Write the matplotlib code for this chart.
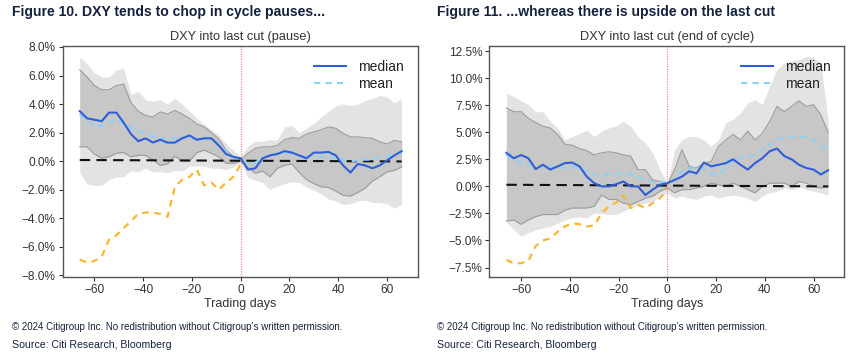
import numpy as np
import matplotlib
matplotlib.use("Agg")
import matplotlib.pyplot as plt
from matplotlib.ticker import PercentFormatter

# ---------- data (% change in DXY) ----------
days = np.arange(-66, 67, 3)           # trading days around the last cut
days_pre = np.arange(-66, 1, 3)        # 2024 path only runs up to day 0
zero_days = [-66, 66]

# Figure 10: pause
pause_outer_hi = [7.3, 6.8, 6.2, 5.9, 5.9, 6.4, 6.5, 4.7, 4.9, 4.3, 4.2, 4.3, 4.0, 4.4, 4.0,
                  3.5, 3.0, 2.6, 2.2, 1.8, 1.25, 0.75, 0.3, 1.05, 1.4, 1.4, 1.5, 1.5, 2.4, 2.5,
                  2.0, 2.3, 2.65, 3.1, 3.5, 3.85, 4.0, 3.9, 4.0, 4.25, 4.4, 4.6, 4.5, 4.1, 4.4]
pause_inner_hi = [6.4, 5.9, 5.3, 5.0, 5.0, 5.3, 5.4, 4.1, 3.5, 3.2, 3.1, 3.45, 3.3, 3.55, 3.3,
                  3.0, 2.6, 2.4, 2.0, 1.55, 0.8, 0.3, 0.1, 0.55, 0.9, 1.0, 1.0, 1.1, 1.5, 1.65,
                  1.6, 1.9, 2.05, 2.2, 2.4, 2.3, 1.95, 1.7, 1.7, 1.65, 1.6, 1.35, 1.2, 1.45, 1.35]
pause_inner_lo = [1.0, 1.0, 0.5, 0.2, 0.3, 0.55, 0.6, 0.3, 0.4, 0.4, 0.1, -0.3, -0.2, 0.35, 0.0,
                  0.0, 0.6, 0.77, 0.55, 0.3, -0.15, -0.15, 0.0, -0.45, -0.85, -0.7, -1.1, -0.5,
                  -0.3, -0.2, -0.8, -1.3, -1.57, -1.8, -1.85, -2.1, -2.4, -2.45, -2.2, -1.9, -1.4,
                  -1.1, -0.75, -0.65, -0.4]
pause_outer_lo = [-0.8, -1.6, -1.7, -1.7, -1.3, -1.1, -1.1, -0.65, -0.75, -0.5, -0.75, -0.75,
                  -0.8, -0.65, -0.7, -0.35, -0.35, -0.35, -0.5, -0.5, -0.6, -0.4, -0.1, -1.15,
                  -1.35, -1.5, -2.0, -1.75, -1.57, -1.45, -1.5, -1.8, -2.03, -2.3, -2.65, -2.8,
                  -3.05, -2.97, -2.8, -2.75, -2.9, -2.9, -3.0, -3.3, -3.0]
pause_median = [3.5, 3.0, 2.9, 2.8, 3.4, 3.4, 2.7, 1.9, 1.4, 1.6, 1.3, 1.5, 1.3, 1.3, 1.6,
                1.8, 1.5, 1.6, 1.6, 1.1, 0.5, 0.3, 0.2, -0.6, -0.5, 0.2, 0.4, 0.5, 0.7, 0.6,
                0.4, 0.2, 0.6, 0.6, 0.65, 0.4, -0.3, -0.8, -0.2, -0.3, -0.5, -0.3, 0.05, 0.4, 0.7]
pause_mean = [3.3, 2.8, 2.4, 2.5, 2.7, 3.0, 2.5, 2.3, 2.1, 2.0, 1.7, 1.6, 1.7, 1.6, 1.7,
              1.6, 1.5, 1.6, 1.6, 1.2, 0.7, 0.3, 0.1, -0.3, -0.1, 0.2, 0.4, 0.5, 0.6, 0.5,
              0.4, 0.3, 0.4, 0.3, 0.3, 0.2, 0.1, 0.0, 0.05, 0.1, 0.1, 0.3, 0.35, 0.4, 0.6]
pause_2024 = [-6.9, -7.1, -7.0, -6.7, -5.5, -5.2, -4.7, -4.2, -3.7, -3.6, -3.6, -3.7, -3.9,
              -1.8, -1.3, -1.1, -0.6, -1.7, -1.5, -2.0, -1.5, -1.1, -0.2]
pause_zero = [0.08, -0.02]

# Figure 11: end of cycle
end_outer_hi = [8.6, 8.3, 7.9, 7.55, 6.9, 6.9, 6.0, 5.4, 4.3, 4.6, 4.9, 5.2, 4.6, 5.1, 5.4,
                5.6, 6.0, 5.55, 4.6, 4.0, 3.1, 1.55, 0.3, 3.4, 4.3, 4.6, 4.6, 4.3, 3.7, 4.3,
                5.9, 6.2, 6.8, 7.7, 8.0, 7.55, 9.3, 10.8, 11.4, 11.6, 11.7, 12.0, 11.9, 11.4, 6.0]
end_inner_hi = [7.25, 6.9, 6.9, 6.3, 5.9, 5.55, 5.4, 4.8, 3.9, 3.8, 3.5, 3.3, 2.9, 3.1, 3.2,
                3.1, 2.9, 2.8, 1.55, 1.55, 0.6, 0.45, 0.15, 1.55, 3.4, 1.85, 1.7, 2.15, 2.3, 3.7,
                4.3, 4.8, 4.3, 5.1, 4.3, 4.9, 6.0, 7.4, 6.9, 7.4, 7.9, 7.4, 7.55, 6.6, 5.0]
end_inner_lo = [-3.2, -3.1, -3.5, -3.1, -2.8, -2.6, -2.6, -2.6, -2.2, -2.0, -2.0, -2.0, -1.85,
                -0.8, -1.2, -1.2, -1.55, -1.7, -1.4, -1.1, -0.9, -0.45, -0.15, -0.6, -0.3, -0.3,
                -0.15, 0.0, 0.3, 0.15, 0.0, 0.3, 0.0, -0.3, -0.6, 0.0, 0.3, 0.3, 0.3, 0.0, 0.45,
                0.3, 0.0, -0.15, 0.0]
end_outer_lo = [-3.3, -4.0, -4.6, -4.3, -4.0, -3.85, -3.7, -3.4, -3.1, -2.9, -2.8, -2.9, -2.5,
                -2.5, -2.6, -2.6, -2.3, -2.0, -1.7, -1.55, -1.4, -0.9, -0.6, -1.1, -0.9, -1.1,
                -1.2, -0.9, -0.8, -1.1, -0.9, -0.8, -0.9, -1.1, -1.4, -0.9, -0.6, -0.45, -0.15,
                -0.3, 0.0, -0.3, -0.45, -0.6, -0.8]
end_median = [3.1, 2.6, 2.9, 2.6, 1.6, 2.0, 1.55, 1.85, 2.15, 2.2, 1.85, 0.9, 0.3, 0.0, 0.0,
              0.2, 0.45, 0.0, 0.0, -0.8, -0.3, 0.15, 0.3, 0.6, 0.9, 1.4, 1.2, 2.2, 1.85, 2.0,
              2.15, 2.5, 2.0, 1.55, 2.15, 2.6, 3.25, 3.5, 2.8, 2.5, 2.0, 1.7, 1.55, 1.1, 1.5]
end_mean = [2.9, 2.5, 2.15, 2.0, 2.0, 1.7, 1.85, 1.7, 1.7, 1.85, 1.55, 1.4, 1.1, 0.9, 1.1,
            1.2, 1.2, 1.1, 0.9, 0.6, 0.45, 0.45, 0.3, 0.6, 1.4, 1.7, 1.7, 1.7, 1.2, 1.1,
            1.7, 2.5, 2.6, 2.8, 2.9, 3.4, 3.85, 4.3, 4.5, 4.6, 4.5, 4.6, 4.3, 3.85, 3.2]
end_2024 = [-6.8, -7.1, -7.1, -6.9, -5.5, -5.0, -4.8, -4.2, -3.7, -3.4, -3.5, -3.7, -3.6,
            -2.5, -1.85, -1.5, -0.8, -2.0, -1.7, -2.0, -1.55, -1.1, -0.3]
end_zero = [0.15, 0.0]

pause_yticks = [-8, -6, -4, -2, 0, 2, 4, 6, 8]
end_yticks = [-7.5, -5.0, -2.5, 0.0, 2.5, 5.0, 7.5, 10.0, 12.5]

# ---------- style ----------
plt.rcParams["font.family"] = ["Liberation Sans", "DejaVu Sans"]
NAVY = "#14213d"
OUTER = "#e3e3e3"
INNER = "#c7c7c7"
EDGE = "#9c9c9c"
MEDIAN_C = "#2f5fd8"
MEAN_C = "#8fd0f7"
ORANGE = "#f7b733"


def draw_panel(ax, outer_hi, inner_hi, inner_lo, outer_lo, median, mean, cur, zero,
               title, ylim, yticks):
    ax.fill_between(days, outer_lo, outer_hi, color=OUTER, lw=0)
    ax.fill_between(days, inner_lo, inner_hi, color=INNER, lw=0)
    ax.plot(days, inner_hi, color=EDGE, lw=0.8)
    ax.plot(days, inner_lo, color=EDGE, lw=0.8)
    ax.plot(zero_days, zero, color="#111111", lw=1.5, ls=(0, (5, 3)))
    ax.axvline(0, color="#ff8a8a", lw=0.9, ls=(0, (1, 1)))
    ax.plot(days_pre, cur, color=ORANGE, lw=1.6, ls=(0, (3, 2.5)))
    ax.plot(days, mean, color=MEAN_C, lw=1.5, ls=(0, (3, 2.5)), label="mean")
    ax.plot(days, median, color=MEDIAN_C, lw=1.5, label="median")

    ax.set_xlim(-73, 72.6)
    ax.set_ylim(*ylim)
    ax.set_xticks([-60, -40, -20, 0, 20, 40, 60])
    ax.set_yticks(yticks)
    ax.yaxis.set_major_formatter(PercentFormatter(decimals=1))
    ax.tick_params(labelsize=8.6, colors="#333333", length=3, width=0.8, pad=2)
    for s in ax.spines.values():
        s.set_color("#555555")
        s.set_linewidth(1.0)
    ax.set_title(title, fontsize=9.2, color="#333333", pad=4)
    ax.set_xlabel("Trading days", fontsize=9.0, color="#333333", labelpad=1)

    handles, labels = ax.get_legend_handles_labels()
    ax.legend(handles[::-1], labels[::-1], loc="upper right", frameon=False,
              fontsize=10, handlelength=2.3, handletextpad=0.85,
              borderaxespad=0.6, labelspacing=0.25, labelcolor="#222222")


fig = plt.figure(figsize=(8.67, 3.59), dpi=100)
ax1 = fig.add_axes([0.0723, 0.2276, 0.4095, 0.6451])
ax2 = fig.add_axes([0.5644, 0.2276, 0.4094, 0.6451])

draw_panel(ax1, pause_outer_hi, pause_inner_hi, pause_inner_lo, pause_outer_lo,
           pause_median, pause_mean, pause_2024, pause_zero,
           "DXY into last cut (pause)", (-8.14, 8.09), pause_yticks)
draw_panel(ax2, end_outer_hi, end_inner_hi, end_inner_lo, end_outer_lo,
           end_median, end_mean, end_2024, end_zero,
           "DXY into last cut (end of cycle)", (-8.4, 13.0), end_yticks)

narrow = ["Liberation Sans Narrow", "Liberation Sans", "DejaVu Sans"]
fig.text(12 / 867, 1 - 12 / 359, "Figure 10. DXY tends to chop in cycle pauses...",
         fontsize=10.1, fontweight="bold", color=NAVY, va="center", family=narrow)
fig.text(437 / 867, 1 - 12 / 359, "Figure 11. ...whereas there is upside on the last cut",
         fontsize=10.1, fontweight="bold", color=NAVY, va="center", family=narrow)

copy_txt = "\u00a9 2024 Citigroup Inc. No redistribution without Citigroup\u2019s written permission."
src_txt = "Source: Citi Research, Bloomberg"
for x0 in (12 / 867, 437 / 867):
    fig.text(x0, 1 - 327 / 359, copy_txt, fontsize=7.0, color=NAVY, va="center", family=narrow)
    fig.text(x0, 1 - 345 / 359, src_txt, fontsize=7.6, color=NAVY, va="center", family=narrow)

fig.savefig("out.png", dpi=100, facecolor="white")
